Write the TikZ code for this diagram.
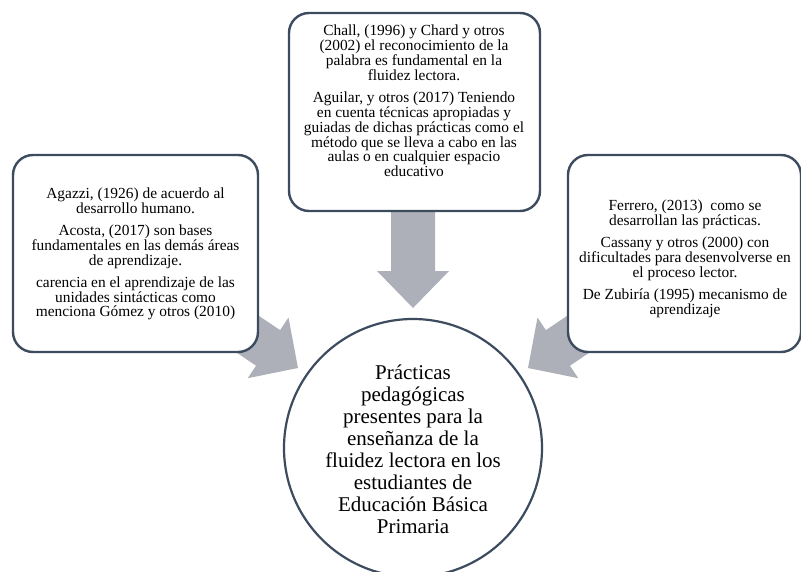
\documentclass[tikz,border=0pt]{standalone}
\usepackage{fontspec}
\setmainfont{Liberation Serif}
\definecolor{bordc}{HTML}{3D4B5F}
\definecolor{arrc}{HTML}{ADB0B8}
\begin{document}
\begin{tikzpicture}[x=1pt,y=-1pt,
  boxst/.style={draw=bordc,line width=2.4pt,rounded corners=20pt,fill=white},
  arrst/.style={fill=arrc,draw=none},
  txt/.style={align=center,font=\fontsize{15.4}{14.8}\selectfont,inner sep=0pt},
  bigtxt/.style={align=center,font=\fontsize{21}{22}\selectfont,inner sep=0pt}]
\useasboundingbox (0,0) rectangle (801,571);
% block arrows
\draw[arrst] (391,190) -- (435,190) -- (435,271) -- (449,271) -- (413,308) -- (377,271) -- (391,271) -- cycle;
\draw[arrst] (189.7,321.1) -- (256.1,365.7) -- (247.7,378.2) -- (298,368) -- (288.5,317.6) -- (280.1,330.1) -- (213.7,285.5) -- cycle;
\draw[arrst] (636.3,321.1) -- (569.9,365.7) -- (578.3,378.2) -- (528,368) -- (537.5,317.6) -- (545.9,330.1) -- (612.3,285.5) -- cycle;
% boxes
\draw[boxst] (13,155) rectangle (258,352);
\draw[boxst] (289,13) rectangle (540,211);
\draw[boxst] (568,155) rectangle (801,352);
\node[draw=bordc,line width=2.2pt,circle,minimum size=258pt,inner sep=0pt,fill=white] (c) at (413,448) {};
% texts
\node[txt] (l) at (135.5,254) {Agazzi, (1926) de acuerdo al\\desarrollo humano.\\[7.5pt]Acosta, (2017) son bases\\fundamentales en las demás áreas\\de aprendizaje.\\[7.5pt]carencia en el aprendizaje de las\\unidades sintácticas como\\menciona Gómez y otros (2010)};
\node[txt] (t) at (414,101) {Chall, (1996) y Chard y otros\\(2002) el reconocimiento de la\\palabra es fundamental en la\\fluidez lectora.\\[7.5pt]Aguilar, y otros (2017) Teniendo\\en cuenta técnicas apropiadas y\\guiadas de dichas prácticas como el\\método que se lleva a cabo en las\\aulas o en cualquier espacio\\educativo};
\node[txt] (r) at (685,259) {Ferrero, (2013)\ \ como se\\desarrollan las prácticas.\\[7.5pt]Cassany y otros (2000) con\\dificultades para desenvolverse en\\el proceso lector.\\[7.5pt]De Zubiría (1995) mecanismo de\\aprendizaje};
\node[bigtxt] (ct) at (413,449) {Prácticas\\pedagógicas\\presentes para la\\enseñanza de la\\fluidez lectora en los\\estudiantes de\\Educación Básica\\Primaria};
\end{tikzpicture}
\end{document}
